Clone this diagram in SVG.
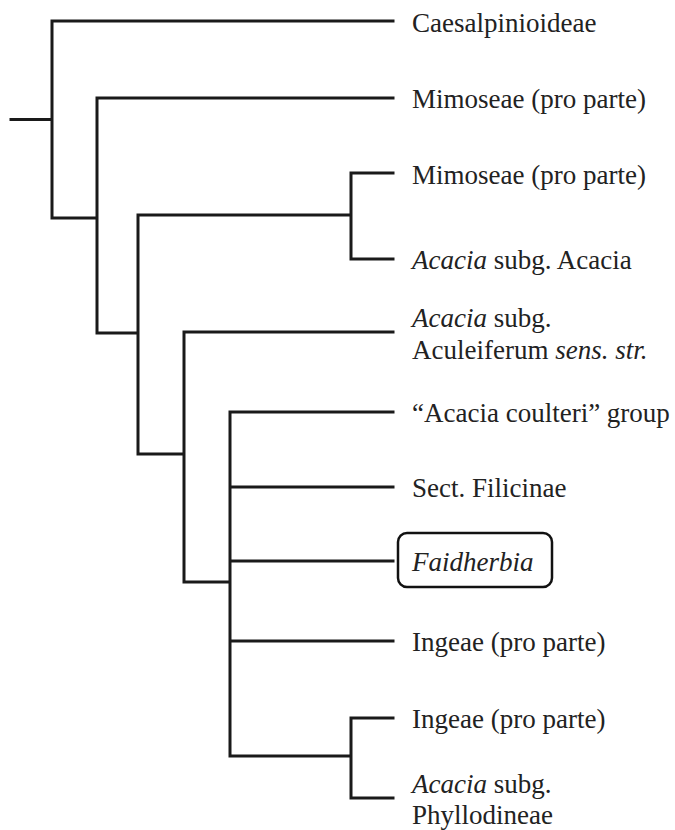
<svg xmlns="http://www.w3.org/2000/svg" width="675" height="830" viewBox="0 0 675 830">
<style>
.e{stroke:#1a1a1a;stroke-width:3;fill:none;stroke-linecap:square}
.t{font-family:"Liberation Serif",serif;font-size:27px;fill:#222}
.i{font-style:italic}
.box{fill:none;stroke:#111;stroke-width:2.5}
</style>
<rect width="675" height="830" fill="#fff"/>
<g id="connectors">
<path class="e" d="M11 119.5H52M52 21V218M52 21H393M52 218H97M97 98V333M97 98H393M97 333H138M138 215V454M138 215H351M351 173V259M351 173H393M351 259H393M138 454H184M184 332V582M184 332H393M184 582H230M230 412V756M230 412H393M230 487H393M230 561H393M230 641H393M230 756H351M351 718V798M351 718H393M351 798H393"/>
</g>
<g id="n1"><text class="t" x="412" y="32">Caesalpinioideae</text></g>
<g id="n2"><text class="t" x="412" y="108">Mimoseae (pro parte)</text></g>
<g id="n3"><text class="t" x="412" y="184">Mimoseae (pro parte)</text></g>
<g id="n4"><text class="t" x="412" y="269"><tspan class="i">Acacia</tspan> subg. Acacia</text></g>
<g id="n5"><text class="t" x="412" y="327"><tspan class="i">Acacia</tspan> subg.</text><text class="t" x="412" y="359">Aculeiferum <tspan class="i">sens. str.</tspan></text></g>
<g id="n6"><text class="t" x="412" y="422">“Acacia coulteri” group</text></g>
<g id="n7"><text class="t" x="412" y="497">Sect. Filicinae</text></g>
<g id="n8"><rect class="box" x="398" y="533" width="154" height="54" rx="9"/><text class="t i" x="412" y="571">Faidherbia</text></g>
<g id="n9"><text class="t" x="412" y="651">Ingeae (pro parte)</text></g>
<g id="n10"><text class="t" x="412" y="728">Ingeae (pro parte)</text></g>
<g id="n11"><text class="t" x="412" y="793"><tspan class="i">Acacia</tspan> subg.</text><text class="t" x="412" y="824">Phyllodineae</text></g>
</svg>
